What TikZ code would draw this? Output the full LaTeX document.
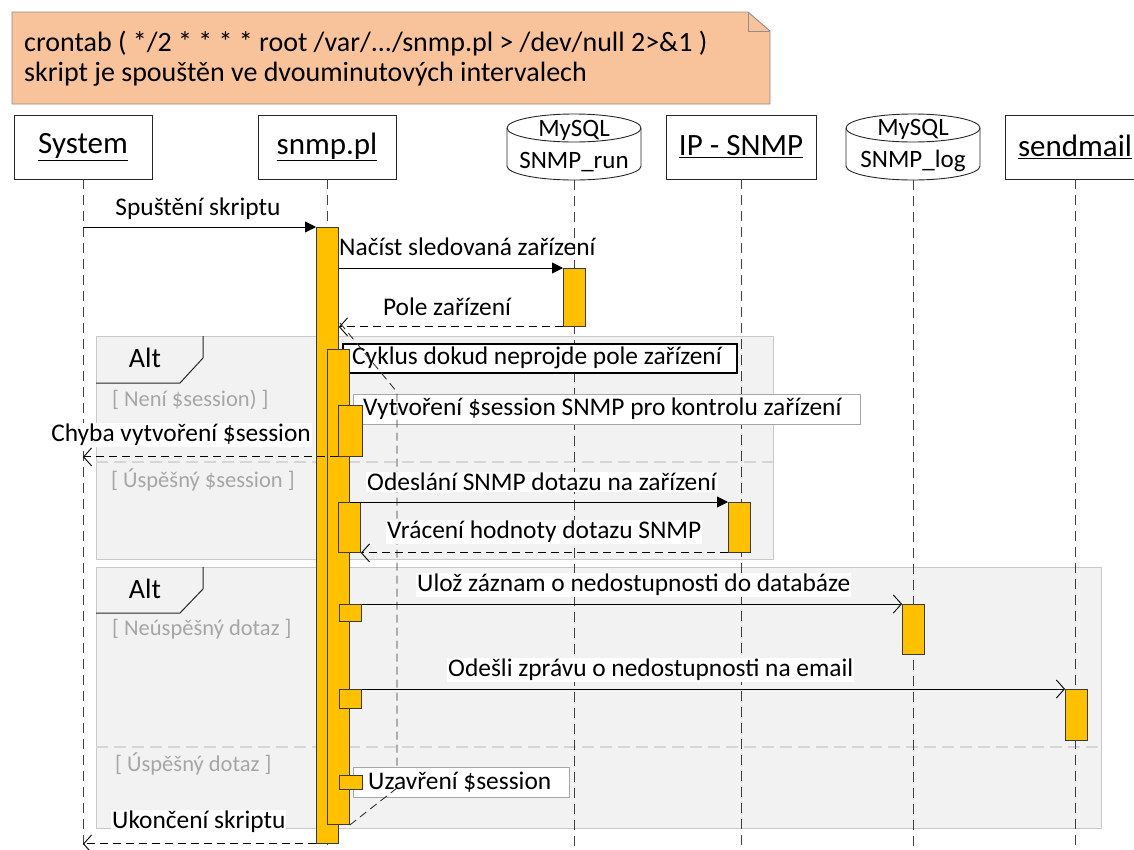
\documentclass[tikz,border=0pt]{standalone}
\usepackage{fontspec}
\setmainfont{Carlito}
\usetikzlibrary{arrows.meta}
\definecolor{actfill}{HTML}{FFC000}
\definecolor{actdraw}{HTML}{3A3A3A}
\definecolor{notefill}{HTML}{F8C39B}
\definecolor{notedraw}{HTML}{8E8E8E}
\definecolor{framefill}{HTML}{F2F2F2}
\definecolor{framedraw}{HTML}{C9C9C9}
\definecolor{divcol}{HTML}{D6D6D6}
\definecolor{guardtxt}{HTML}{A6A6A6}
\definecolor{boxgray}{HTML}{A6A6A6}
\newcommand\hdfont{\fontsize{31}{36}\selectfont}
\newcommand\msgfont{\fontsize{25.4}{30}\selectfont}
\newcommand\grdfont{\fontsize{22.5}{27}\selectfont}
\newcommand\altfont{\fontsize{28}{32}\selectfont}
\newcommand\notefont{\fontsize{28}{33}\selectfont}
\newcommand\dbfont{\fontsize{25}{32}\selectfont}
\begin{document}
\begin{tikzpicture}[x=1pt,y=-1pt,
  head/.style={draw=black!85, line width=0.9pt, fill=white, minimum width=138, minimum height=64, inner sep=0, font=\hdfont},
  life/.style={draw=black!75, line width=0.9pt, dash pattern=on 10pt off 6pt},
  act/.style={draw=actdraw, fill=actfill, line width=0.9pt, anchor=north west, inner sep=0, minimum width=22},
  frame/.style={draw=framedraw, fill=framefill, line width=1.2pt, anchor=north west, inner sep=0},
  tab/.style={draw=black!85, line width=1pt},
  divider/.style={draw=divcol, line width=1.2pt, dash pattern=on 12pt off 6pt},
  msg/.style={line width=0.9pt, -{Triangle[length=11pt,width=11pt]}},
  ret/.style={line width=0.9pt, dash pattern=on 8pt off 5pt, -{Straight Barb[length=8pt,width=18pt]}},
  async/.style={line width=0.9pt, -{Straight Barb[length=8pt,width=18pt]}},
  loopline/.style={draw=black!80, line width=0.9pt, dash pattern=on 8pt off 5pt},
  lbl/.style={font=\msgfont, inner sep=1pt},
  wlbl/.style={lbl, fill=white},
  guard/.style={font=\grdfont, text=guardtxt, anchor=west, inner sep=0},
  cbox/.style={fill=white, anchor=north west, inner sep=0},
  db/.style={fill=white, draw=black!85, line width=0.9pt}
]
\useasboundingbox (0,0) rectangle (1134,849);
\coordinate (bot) at (0,849);

% note
\draw[fill=notefill, draw=notedraw, line width=0.9pt] (12,12) -- (748,12) -- (770,31) -- (770,104) -- (12,104) -- cycle;
\draw[draw=notedraw, line width=0.9pt] (748,12) -- (748,31) -- (770,31);
\node[anchor=base west, font=\notefont, inner sep=0] (n1) at (24,51) {crontab ( */2 * * * * root /var/.../snmp.pl > /dev/null 2>\&1 )};
\node[anchor=base west, font=\notefont, inner sep=0] (n2) at (24,81) {skript je spouštěn ve dvouminutových intervalech};

% alt frames
\node[frame, minimum width=677, minimum height=223] (alt1) at (96,336) {};
\draw[tab] (203,336) -- (203,358) -- (180,383) -- (96,383);
\node[font=\altfont, inner sep=0] (alt1t) at (145,358) {Alt};
\draw[divider] (96,462) -- (773,462);
\node[guard] (g1) at (112,400) {[ Není \$session) ]};
\node[guard] (g2) at (111,480) {[ Úspěšný \$session ]};

\node[frame, minimum width=1005, minimum height=261] (alt2) at (96,567) {};
\draw[tab] (203,567) -- (203,589) -- (180,613) -- (96,613);
\node[font=\altfont, inner sep=0] (alt2t) at (145,589) {Alt};
\draw[divider] (96,747) -- (1101,747);
\node[guard] (g3) at (112,629) {[ Neúspěšný dotaz ]};
\node[guard] (g4) at (115,764) {[ Úspěšný dotaz ]};

% headers
\node[head] (sys) at (83,147) {\underline{System}};
\node[head] (snmp) at (327,147) {\underline{snmp.pl}};
\node[head, minimum width=150] (ip) at (741,147) {\underline{IP - SNMP}};
\node[head, minimum width=140] (mail) at (1075,147) {\underline{sendmail}};
% databases
\path[db] (507,128) -- (507,166) arc[start angle=180, end angle=360, x radius=67pt, y radius=14pt] -- (641,128) arc[start angle=0, end angle=180, x radius=67pt, y radius=14pt] -- cycle;
\draw[black!85, line width=0.9pt] (507,128) arc[start angle=180, end angle=360, x radius=67pt, y radius=14pt];
\node[font=\dbfont, align=center, inner sep=0] (run) at (574,146) {MySQL\\SNMP\_run};
\path[db] (846,128) -- (846,166) arc[start angle=180, end angle=360, x radius=67pt, y radius=14pt] -- (980,128) arc[start angle=0, end angle=180, x radius=67pt, y radius=14pt] -- cycle;
\draw[black!85, line width=0.9pt] (846,128) arc[start angle=180, end angle=360, x radius=67pt, y radius=14pt];
\node[font=\dbfont, align=center, inner sep=0] (log) at (913,146) {MySQL\\SNMP\_log};
\coordinate (runb) at (574,180);
\coordinate (logb) at (913,180);

% lifelines
\draw[life] (sys.south) -- (sys.south |- bot);
\draw[life] (snmp.south) -- (snmp.south |- bot);
\draw[life] (runb) -- (runb |- bot);
\draw[life] (ip.south) -- (ip.south |- bot);
\draw[life] (logb) -- (logb |- bot);
\draw[life] (mail.south) -- (mail.south |- bot);

% comment boxes
\node[cbox, draw=black, line width=1.5pt, minimum width=394, minimum height=29] (cyc) at (342,343) {};
\node[lbl, anchor=west] (cyct) at (351,357.5) {Cyklus dokud neprojde pole zařízení};
\node[cbox, draw=boxgray, line width=1pt, minimum width=507, minimum height=30] (vyt) at (353,394) {};
\node[lbl, anchor=west] (vytt) at (362,409) {Vytvoření \$session SNMP pro kontrolu zařízení};

% loop lines
\coordinate (lp1) at (340,323);
\coordinate (lp2) at (397,392);
\coordinate (lp3) at (397,767);
\coordinate (lp4) at (397,788);
\draw[loopline] (lp1) -- (lp2) -- (lp3);

\node[cbox, draw=boxgray, line width=1pt, minimum width=216, minimum height=30] (uza) at (353,767) {};
\node[lbl, anchor=west] (uzat) at (367,782) {Uzavření \$session};

% activations
\node[act, minimum height=616] (main) at (316,227) {};
\node[act, minimum height=58] (aRun) at (563,268) {};
\node[act, minimum height=475] (inner) at (327,349) {};
\draw[loopline] (lp4) -- (inner.south east);
\node[act, minimum width=24, minimum height=51] (s1) at (338,405) {};
\node[act, minimum height=50] (s2) at (338,502) {};
\node[act, minimum height=50] (aIp) at (728,502) {};
\node[act, minimum height=17] (s3) at (339,604) {};
\node[act, minimum height=50] (aLog) at (902,604) {};
\node[act, minimum height=19] (s4) at (339,689) {};
\node[act, minimum height=51] (aMail) at (1065,689) {};
\node[act, minimum width=23, minimum height=14] (s5) at (339,775) {};

% messages
\draw[msg] (sys.south |- main.north west) -- (main.north west);
\draw[msg] (main.east |- aRun.north west) -- (aRun.north west);
\draw[ret] (aRun.south west) -- (main.east |- aRun.south west);
\draw[ret] (s1.south west) -- (sys.south |- s1.south west);
\draw[msg] (inner.east |- aIp.north west) -- (aIp.north west);
\draw[ret] (aIp.south west) -- (s2.south east);
\draw[async] (s3.north east) -- (aLog.north west);
\draw[async] (s4.north east) -- (aMail.north west);
\draw[ret] (main.south west) -- (sys.south |- main.south west);

% labels
\node[lbl] (l1) at (198,209) {Spuštění skriptu};
\node[lbl, anchor=west] (l2) at (338,247) {Načíst sledovaná zařízení};
\node[lbl] (l3) at (447,307) {Pole zařízení};
\node[wlbl, anchor=east] (l4) at (312,435) {Chyba vytvoření \$session};
\node[wlbl, anchor=west] (l5) at (366,482) {Odeslání SNMP dotazu na zařízení};
\node[wlbl, anchor=west] (l6) at (386,532) {Vrácení hodnoty dotazu SNMP};
\node[wlbl, anchor=west] (l7) at (416,585) {Ulož záznam o nedostupnosti do databáze};
\node[wlbl, anchor=west] (l8) at (447,670) {Odešli zprávu o nedostupnosti na email};
\node[wlbl, anchor=west] (l9) at (111,822) {Ukončení skriptu};
\end{tikzpicture}
\end{document}
